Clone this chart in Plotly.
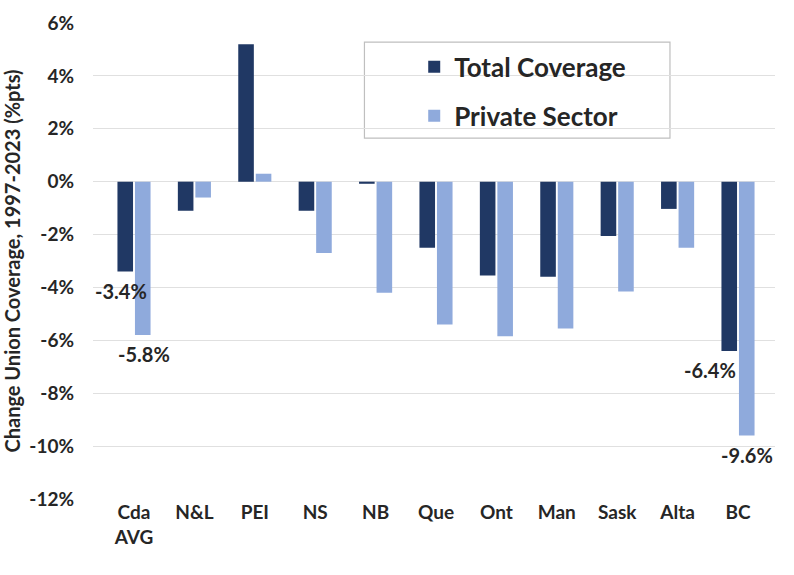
import plotly.graph_objects as go

categories = ["Cda<br>AVG", "N&L", "PEI", "NS", "NB", "Que", "Ont", "Man", "Sask", "Alta", "BC"]
total_coverage = [-3.4, -1.1, 5.2, -1.1, -0.08, -2.5, -3.55, -3.6, -2.05, -1.03, -6.4]
private_sector = [-5.8, -0.6, 0.3, -2.7, -4.2, -5.4, -5.85, -5.55, -4.15, -2.5, -9.6]
labelled_total = ["Cda<br>AVG", "BC"]
labelled_private = ["Cda<br>AVG", "BC"]
tick_vals = [6, 4, 2, 0, -2, -4, -6, -8, -10, -12]
tick_text = ["6%", "4%", "2%", "0%", "-2%", "-4%", "-6%", "-8%", "-10%", "-12%"]

FONT = "Lato"
TXT = "#262626"
DARK = "#203864"
LIGHT = "#8FAADC"

# style: horizontal nudges (px) for the data labels
total_label_shift = {"Cda<br>AVG": -13, "BC": -28}
private_label_shift = {"Cda<br>AVG": 10, "BC": 9}

fig = go.Figure()
fig.add_trace(go.Bar(
    x=categories, y=total_coverage, name="Total Coverage",
    marker=dict(color=DARK, line=dict(width=0)), legendgroup="a",
))
fig.add_trace(go.Bar(
    x=categories, y=private_sector, name="Private Sector",
    marker=dict(color=LIGHT, line=dict(width=0)), legendgroup="b",
))

annotations = []
for c, v in zip(categories, total_coverage):
    if c in labelled_total:
        annotations.append(dict(x=c, y=v, xref="x", yref="y", text=f"{v:.1f}%",
                                showarrow=False, yanchor="top", xanchor="center",
                                xshift=total_label_shift[c], yshift=-5,
                                font=dict(family=FONT, size=20, color=TXT, weight="bold")))
for c, v in zip(categories, private_sector):
    if c in labelled_private:
        annotations.append(dict(x=c, y=v, xref="x", yref="y", text=f"{v:.1f}%",
                                showarrow=False, yanchor="top", xanchor="center",
                                xshift=private_label_shift[c], yshift=-5,
                                font=dict(family=FONT, size=20, color=TXT, weight="bold")))

fig.update_layout(
    width=794, height=575,
    margin=dict(l=93, r=19, t=23, b=76),
    paper_bgcolor="white", plot_bgcolor="white",
    barmode="group", bargap=0.42, bargroupgap=0.11,
    font=dict(family=FONT, color=TXT),
    legend=dict(
        x=0.471, y=0.957, xanchor="left", yanchor="top",
        font=dict(size=26, family=FONT, color=TXT, weight="bold"),
        bgcolor="rgba(0,0,0,0)", borderwidth=0,
        traceorder="grouped", tracegroupgap=12,
        itemsizing="constant",
    ),
    shapes=[dict(type="rect", xref="paper", yref="paper",
                 x0=0.398, x1=0.846, y0=0.758, y1=0.96,
                 line=dict(color="#BFBFBF", width=1.2), fillcolor="rgba(0,0,0,0)", layer="below")],
    annotations=annotations,
    showlegend=True,
)
fig.update_xaxes(
    showgrid=False, showline=False, zeroline=False, ticks="", automargin=False,
    tickfont=dict(size=19, family=FONT, color=TXT, weight="bold"),
)
fig.update_yaxes(
    range=[-12, 6], tickvals=tick_vals, ticktext=tick_text, automargin=False,
    showgrid=True, gridcolor="#E0E0E0", gridwidth=1,
    zeroline=True, zerolinecolor="#E0E0E0", zerolinewidth=1,
    showline=False, ticks="", ticklabelstandoff=18,
    tickfont=dict(size=19, family=FONT, color=TXT, weight="bold"),
    title=dict(text="Change Union Coverage, 1997-2023 (%pts)", standoff=4,
               font=dict(size=20, family=FONT, color=TXT, weight="bold")),
)

fig.write_html("out.html")
